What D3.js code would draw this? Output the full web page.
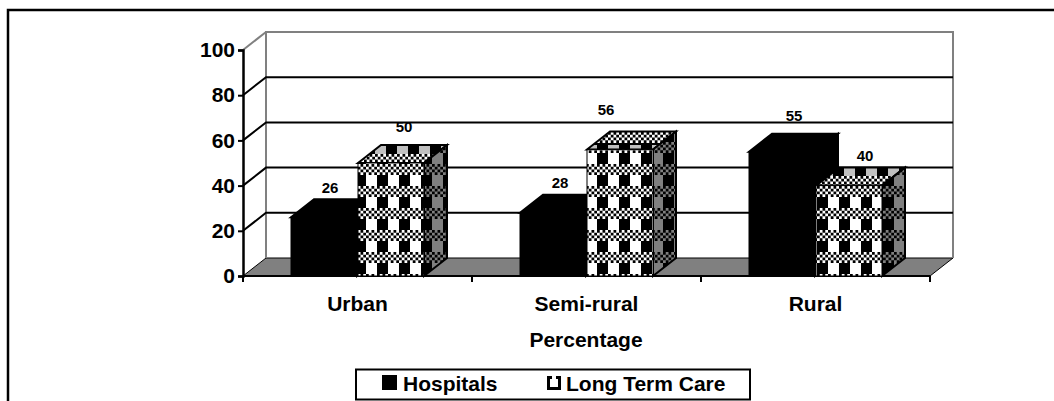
<!DOCTYPE html>
<head>
    <title>Percentage</title>
</head>
<style>
    html, body { margin: 0; background: #fff; }
    svg { display: block; font-family: "Liberation Sans", Arial, sans-serif; font-weight: bold; fill: #000; }
</style>
<svg width="1054" height="401"></svg>
<script src="https://d3js.org/d3.v7.min.js"></script>
<script>
    var categories = ["Urban", "Semi-rural", "Rural"];
    var seriesNames = ["Hospitals", "Long Term Care"];
    var hospitals = [26, 28, 55];
    var longTermCare = [50, 56, 40];
    var yTicks = [0, 20, 40, 60, 80, 100];

    // hand placed data labels, the original ones do not sit evenly on the bars
    var labelNudgeHospitals = [[6, 6], [7, 7], [12, 13]];
    var labelNudgeCare = [[13, 13], [-14, 16], [16, 7]];
    var topShift = [1, 14, 8];

    var svg = d3.select("svg");

    // fake 3d depth, front plane to back wall
    var depthX = 23, depthY = 18;

    var x = d3.scaleBand().domain(categories).range([243, 930]);
    var y = d3.scaleLinear().domain([0, 100]).range([276, 50]);
    var inner = d3.scaleBand().domain(seriesNames).range([48, 48 + 134]);

    function path(points) { return "M" + points.join("L") + "Z"; }

    var defs = svg.append("defs");

    // 22px tile: fine checker on one half, plain columns on the other
    function checkerTile(id, dark, light, plainLight, dx, dy) {
        var p = defs.append("pattern").attr("id", id)
            .attr("patternUnits", "userSpaceOnUse")
            .attr("patternTransform", "translate(" + dx + "," + dy + ")")
            .attr("width", 22).attr("height", 22);
        p.append("rect").attr("width", 22).attr("height", 22).attr("fill", light);
        p.append("rect").attr("y", 11).attr("width", 11).attr("height", 11).attr("fill", dark);
        p.append("rect").attr("x", 11).attr("y", 11).attr("width", 11).attr("height", 11).attr("fill", plainLight);
        d3.range(0, 4).forEach(function(r) {
            d3.range(0, 8).forEach(function(c) {
                if ((r + c) % 2 == 0) {
                    p.append("rect").attr("x", c * 2.75).attr("y", r * 2.75)
                        .attr("width", 2.75).attr("height", 2.75).attr("fill", dark);
                }
            });
        });
    }
    checkerTile("frontTile", "#000", "#fff", "#fff", 3, 10);
    checkerTile("sideTile", "#000", "#808080", "#808080", 3, 10);
    // the top faces have checker and grey blocks, columns shift per bar
    topShift.forEach(function(s, i) {
        checkerTile("topTile" + i, "#000", "#fff", "#000", s + 11, 0);
        d3.select("#topTile" + i).append("rect")
            .attr("x", 11).attr("y", 13).attr("width", 11).attr("height", 9).attr("fill", "#c0c0c0");
    });

    // outer frame, runs off the bottom and right of the picture
    svg.append("path")
        .attr("d", "M8,401V10H1054")
        .attr("fill", "none").attr("stroke", "#000").attr("stroke-width", 2.5);

    // floor
    svg.append("path")
        .attr("d", path([[243, y(0)], [243 + depthX, y(0) - depthY], [930 + depthX, y(0) - depthY], [930, y(0)]]))
        .attr("fill", "#808080").attr("stroke", "#000").attr("stroke-width", 1);

    // walls
    svg.append("path")
        .attr("d", "M" + (243 + depthX) + "," + (y(0) - depthY) + "V" + (y(100) - depthY) + "H" + (930 + depthX) + "V" + (y(0) - depthY))
        .attr("fill", "none").attr("stroke", "#808080").attr("stroke-width", 2);
    svg.append("line")
        .attr("x1", 243).attr("y1", y(100)).attr("x2", 243 + depthX).attr("y2", y(100) - depthY)
        .attr("stroke", "#808080").attr("stroke-width", 2);

    // gridlines with the slanted bit on the side wall
    var grid = yTicks.filter(function(d) { return d > 0 && d < 100; });
    svg.selectAll(".grid").data(grid).enter().append("path")
        .attr("class", "grid")
        .attr("d", function(d) {
            return "M243," + y(d) + "L" + (243 + depthX) + "," + (y(d) - depthY) + "H" + (930 + depthX);
        })
        .attr("fill", "none").attr("stroke", "#000").attr("stroke-width", 2);

    // value axis
    var yAxis = svg.append("g").attr("transform", "translate(243,0)")
        .call(d3.axisLeft(y).tickValues(yTicks).tickSize(5).tickPadding(3));
    yAxis.selectAll("line").attr("stroke", "#000").attr("stroke-width", 2);
    yAxis.select(".domain").attr("stroke", "#000").attr("stroke-width", 2.5);
    yAxis.selectAll("text").attr("font-size", 21).attr("font-family", "Liberation Sans").attr("font-weight", "bold").attr("fill", "#000");

    // category axis
    var xAxis = svg.append("g").attr("transform", "translate(0," + y(0) + ")");
    xAxis.append("line").attr("x1", 243).attr("x2", 930).attr("stroke", "#000").attr("stroke-width", 2);
    xAxis.selectAll(".tick").data(d3.range(0, categories.length + 1)).enter().append("line")
        .attr("class", "tick")
        .attr("x1", function(d) { return 243 + d * x.step(); })
        .attr("x2", function(d) { return 243 + d * x.step(); })
        .attr("y2", 6).attr("stroke", "#000").attr("stroke-width", 2);
    xAxis.selectAll("text").data(categories).enter().append("text")
        .attr("x", function(d) { return x(d) + x.bandwidth() / 2; })
        .attr("y", 35).attr("text-anchor", "middle").attr("font-size", 21)
        .text(function(d) { return d; });

    // bars, drawn left to right so the long term care ones overlap
    var rows = [];
    categories.forEach(function(c, i) {
        rows.push({ cat: c, index: i, name: seriesNames[0], value: hospitals[i], nudge: labelNudgeHospitals[i] });
        rows.push({ cat: c, index: i, name: seriesNames[1], value: longTermCare[i], nudge: labelNudgeCare[i] });
    });

    var bar = svg.selectAll(".bar").data(rows).enter().append("g").attr("class", "bar");

    function x0(d) { return x(d.cat) + inner(d.name); }
    function x1(d) { return x0(d) + inner.bandwidth() - 1; }
    function solid(d) { return d.name == seriesNames[0]; }

    bar.append("path") // top
        .attr("d", function(d) {
            return path([[x0(d), y(d.value)], [x0(d) + depthX, y(d.value) - depthY], [x1(d) + depthX, y(d.value) - depthY], [x1(d), y(d.value)]]);
        })
        .attr("fill", function(d) { return solid(d) ? "#000" : "url(#topTile" + d.index + ")"; })
        .attr("stroke", "#000").attr("stroke-width", 2);
    bar.append("path") // side
        .attr("d", function(d) {
            return path([[x1(d), y(d.value)], [x1(d) + depthX, y(d.value) - depthY], [x1(d) + depthX, y(0) - depthY], [x1(d), y(0)]]);
        })
        .attr("fill", function(d) { return solid(d) ? "#000" : "url(#sideTile)"; })
        .attr("stroke", "#000").attr("stroke-width", 2);
    bar.append("rect") // front
        .attr("x", x0)
        .attr("y", function(d) { return y(d.value); })
        .attr("width", function(d) { return x1(d) - x0(d); })
        .attr("height", function(d) { return y(0) - y(d.value); })
        .attr("fill", function(d) { return solid(d) ? "#000" : "url(#frontTile)"; })
        .attr("stroke", "#000").attr("stroke-width", 1);

    bar.append("text")
        .attr("x", function(d) { return (x0(d) + x1(d)) / 2 + d.nudge[0]; })
        .attr("y", function(d) { return y(d.value) - depthY - d.nudge[1]; })
        .attr("text-anchor", "middle").attr("font-size", 15)
        .text(function(d) { return d.value; });

    // axis title
    svg.append("text").attr("x", 586).attr("y", 347).attr("text-anchor", "middle")
        .attr("font-size", 21).text("Percentage");

    // legend
    svg.append("rect").attr("x", 356).attr("y", 369.5).attr("width", 394).attr("height", 30)
        .attr("fill", "#fff").attr("stroke", "#000").attr("stroke-width", 2);
    svg.append("rect").attr("x", 382).attr("y", 375).attr("width", 15).attr("height", 15).attr("fill", "#000");
    svg.append("text").attr("x", 403).attr("y", 391).attr("font-size", 21).text(seriesNames[0]);
    svg.append("rect").attr("x", 548.5).attr("y", 377.5).attr("width", 11).attr("height", 11)
        .attr("fill", "#fff").attr("stroke", "#000").attr("stroke-width", 3);
    svg.append("rect").attr("x", 552).attr("y", 376).attr("width", 4).attr("height", 4).attr("fill", "#fff");
    svg.append("text").attr("x", 566).attr("y", 391).attr("font-size", 21).text(seriesNames[1]);
</script>
